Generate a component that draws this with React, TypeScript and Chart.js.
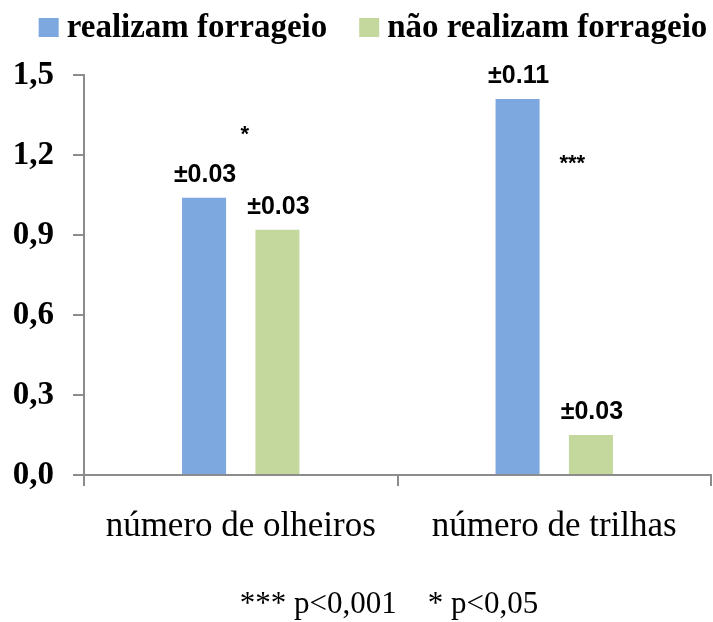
import React, { useEffect, useRef } from "react";
import { Chart, registerables } from "chart.js";

Chart.register(...registerables);

const categories = ["número de olheiros", "número de trilhas"];
const seriesNames = ["realizam forrageio", "não realizam forrageio"];
const forageValues = [1.04, 1.41];
const noForageValues = [0.92, 0.15];
const forageErrors = ["±0.03", "±0.11"];
const noForageErrors = ["±0.03", "±0.03"];
const sigMarks = ["*", "***"];
const sigHeights = [1.29, 1.18];
const yTicks = [0, 0.3, 0.6, 0.9, 1.2, 1.5];
const footnote = "*** p<0,001    * p<0,05";

const BLUE = "#7DA7DF";
const GREEN = "#C4D89E";
const AXIS = "#8C8C8C";
const SERIF = '"Liberation Serif", serif';
const SANS = '"Liberation Sans", Arial, sans-serif';

const annotations = {
  id: "annotations",
  afterDatasetsDraw(chart: any) {
    const ctx = chart.ctx;
    const errs = [forageErrors, noForageErrors];
    const colors = [BLUE, GREEN];
    ctx.save();
    ctx.fillStyle = "#000";
    ctx.textAlign = "center";
    ctx.textBaseline = "middle";
    ctx.font = `bold 25px ${SANS}`;
    chart.data.datasets.forEach((ds: any, di: number) => {
      const meta = chart.getDatasetMeta(di);
      meta.data.forEach((bar: any, i: number) => {
        ctx.fillText(errs[di][i], bar.x + 1, bar.y - 23);
      });
    });
    const xs = chart.scales.x;
    const ys = chart.scales.y;
    ctx.font = `bold 22px ${SANS}`;
    sigMarks.forEach((m, i) => {
      ctx.fillText(m, xs.getPixelForValue(i) + (i === 0 ? 4 : 18), ys.getPixelForValue(sigHeights[i]) + 4);
    });
    ctx.font = `31px ${SERIF}`;
    ctx.textBaseline = "alphabetic";
    ctx.fillText(footnote, 389, chart.height - 9);

    // legend
    ctx.font = `bold 33px ${SERIF}`;
    ctx.textAlign = "left";
    const box = 20;
    const gapText = 8;
    const gapItem = 32;
    const widths = seriesNames.map((n) => ctx.measureText(n).width);
    const total = widths.reduce((a, w) => a + box + gapText + w, 0) + gapItem * (seriesNames.length - 1);
    let x = 373 - total / 2;
    seriesNames.forEach((n, i) => {
      ctx.fillStyle = colors[i];
      ctx.fillRect(x, 18, box, 19);
      ctx.fillStyle = "#000";
      ctx.fillText(n, x + box + gapText, 37);
      x += box + gapText + widths[i] + gapItem;
    });
    ctx.restore();
  },
};

export default function App() {
  const ref = useRef<HTMLCanvasElement>(null);
  useEffect(() => {
    const chart = new Chart(ref.current!, {
      type: "bar",
      data: {
        labels: categories,
        datasets: [
          { label: seriesNames[0], data: forageValues, backgroundColor: BLUE, borderWidth: 0 },
          { label: seriesNames[1], data: noForageValues, backgroundColor: GREEN, borderWidth: 0 },
        ],
      },
      plugins: [annotations],
      options: {
        animation: false,
        responsive: false,
        maintainAspectRatio: false,
        devicePixelRatio: 1,
        layout: { padding: { left: 0, right: 2, top: 75, bottom: 0 } },
        datasets: { bar: { categoryPercentage: 0.468, barPercentage: 0.6 } },
        plugins: {
          legend: { display: false },
          tooltip: { enabled: false },
          title: { display: false },
        },
        scales: {
          x: {
            grid: { drawOnChartArea: false, offset: true, color: AXIS, lineWidth: 2, tickLength: 11 },
            border: { color: AXIS, width: 2 },
            ticks: { color: "#000", font: { family: SERIF, size: 35 }, padding: 20 },
            afterFit: (s: any) => {
              s.height = 147;
              s.paddingLeft = 0;
              s.paddingRight = 0;
            },
          },
          y: {
            min: 0,
            max: 1.5,
            grid: { drawOnChartArea: false, color: AXIS, lineWidth: 2, tickLength: 11 },
            border: { color: AXIS, width: 2 },
            afterBuildTicks: (s: any) => { s.ticks = yTicks.map((v) => ({ value: v })); },
            ticks: {
              color: "#000",
              font: { family: SERIF, size: 33, weight: "bold" },
              padding: 19,
              callback: (v: any) => Number(v).toFixed(1).replace(".", ","),
            },
            afterFit: (s: any) => {
              s.width = 84;
              s.paddingTop = 0;
              s.paddingBottom = 0;
            },
          },
        },
      },
    });
    return () => chart.destroy();
  }, []);
  return (
    <div style={{ position: "absolute", left: 0, top: 0, width: 713, height: 622, background: "#fff" }}>
      <canvas ref={ref} width={713} height={622} style={{ width: 713, height: 622 }} />
    </div>
  );
}
